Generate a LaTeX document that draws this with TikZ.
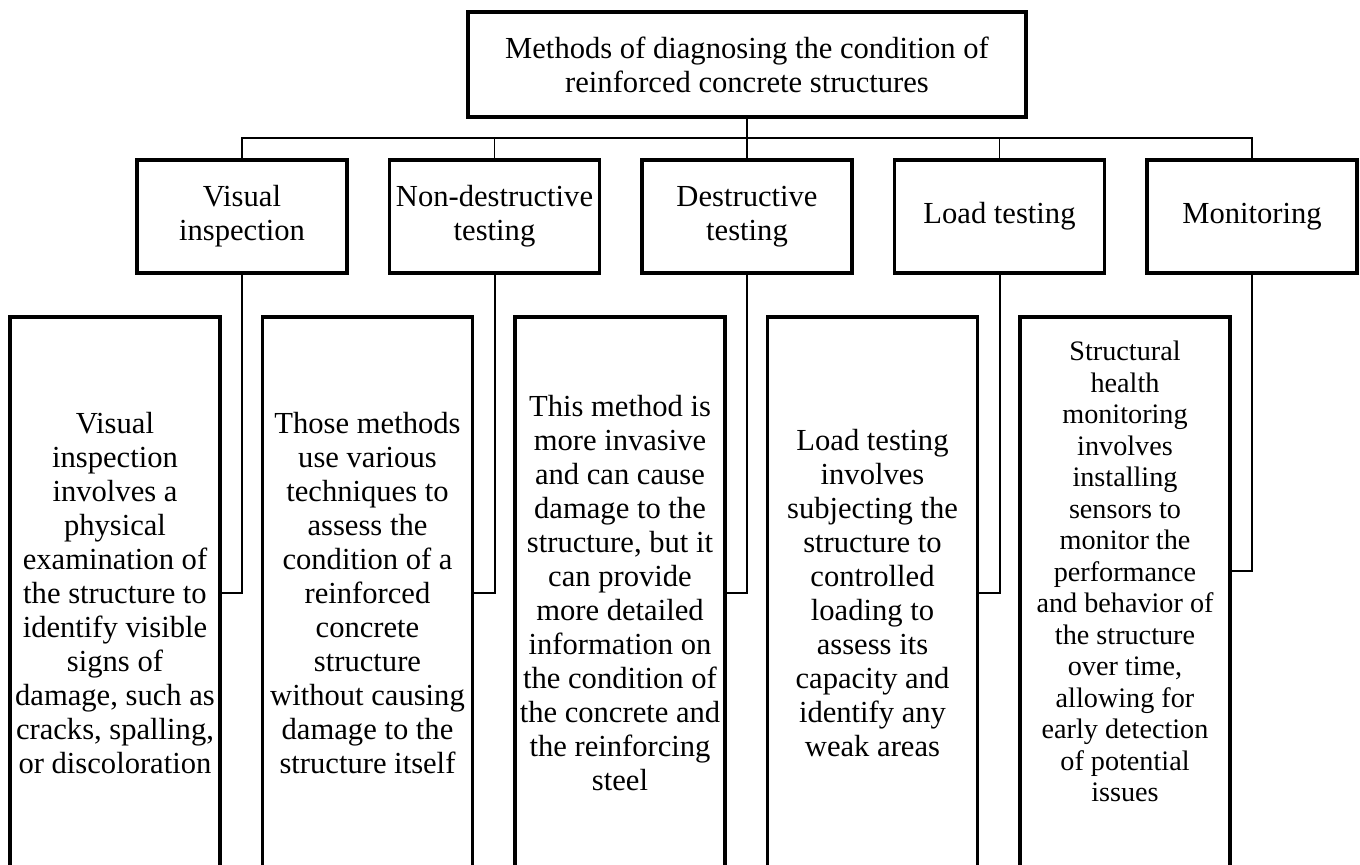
\documentclass[tikz,border=0pt]{standalone}
\usepackage{fontspec}
\setmainfont{Liberation Serif}
\usetikzlibrary{positioning}

\newcommand{\mainsize}{\fontsize{15.3}{17}\selectfont}
\newcommand{\smallsize}{\fontsize{14.1}{15.75}\selectfont}

\begin{document}
\begin{tikzpicture}[
        x=0.5pt, y=-0.5pt,
        node distance=21.25pt,
        rootbox/.style={rectangle, draw, line width=1.65pt, outer sep=0pt, inner xsep=0pt,
                        minimum width=279pt, minimum height=52.5pt, align=center, font=\mainsize},
        methodbox/.style={rectangle, draw, line width=1.65pt, outer sep=0pt, inner xsep=0pt,
                          minimum width=105pt, minimum height=56.5pt, align=center, font=\mainsize},
        descbox/.style={rectangle, draw, line width=1.65pt, outer sep=0pt, inner xsep=0pt,
                        minimum width=105pt, minimum height=276pt, align=center, font=\mainsize},
        link/.style={line width=1pt},
        bus/.style={line width=0.8pt}
    ]
        \useasboundingbox (0,0) rectangle (1360,864);

        % top of the tree
        \node[rootbox] (root) at (747,64.5) {Methods of diagnosing the condition of\\reinforced concrete structures};

        % groups of methods
        \node[methodbox] (visual) at (242,216.5) {Visual\\inspection};
        \node[methodbox, right=of visual] (nondestr) {Non-destructive\\testing};
        \node[methodbox, right=of nondestr] (destr) {Destructive\\testing};
        \node[methodbox, right=of destr] (load) {Load testing};
        \node[methodbox, right=of load] (monit) {Monitoring};

        % descriptions
        \node[descbox, anchor=north] (visualtxt) at (115,317) {Visual\\inspection\\involves a\\physical\\examination of\\the structure to\\identify visible\\signs of\\damage, such as\\cracks, spalling,\\or discoloration};
        \node[descbox, right=of visualtxt] (nondestrtxt) {Those methods\\use various\\techniques to\\assess the\\condition of a\\reinforced\\concrete\\structure\\without causing\\damage to the\\structure itself};
        \node[descbox, right=of nondestrtxt] (destrtxt) {This method is\\more invasive\\and can cause\\damage to the\\structure, but it\\can provide\\more detailed\\information on\\the condition of\\the concrete and\\the reinforcing\\steel};
        \node[descbox, right=of destrtxt] (loadtxt) {Load testing\\involves\\subjecting the\\structure to\\controlled\\loading to\\assess its\\capacity and\\identify any\\weak areas};
        \node[descbox, right=of loadtxt, font=\smallsize] (monittxt) {Structural\\health\\monitoring\\involves\\installing\\sensors to\\monitor the\\performance\\and behavior of\\the structure\\over time,\\allowing for\\early detection\\of potential\\issues\\[6pt]\mbox{}};

        \coordinate (split) at (747,138);

        \draw[link] (root) -- (destr);
        \draw[bus] (visual.north) |- (split) -| (monit.north);
        \draw[bus] (nondestr.north) -- (nondestr.north |- split);
        \draw[bus] (load.north) -- (load.north |- split);

        \draw[link] (visual.south) |- (visualtxt.east);
        \draw[link] (nondestr.south) |- (nondestrtxt.east);
        \draw[link] (destr.south) |- (destrtxt.east);
        \draw[link] (load.south) |- (loadtxt.east);
        \draw[link] (monit.south) |- ([yshift=11pt]monittxt.east);
    \end{tikzpicture}
\end{document}
